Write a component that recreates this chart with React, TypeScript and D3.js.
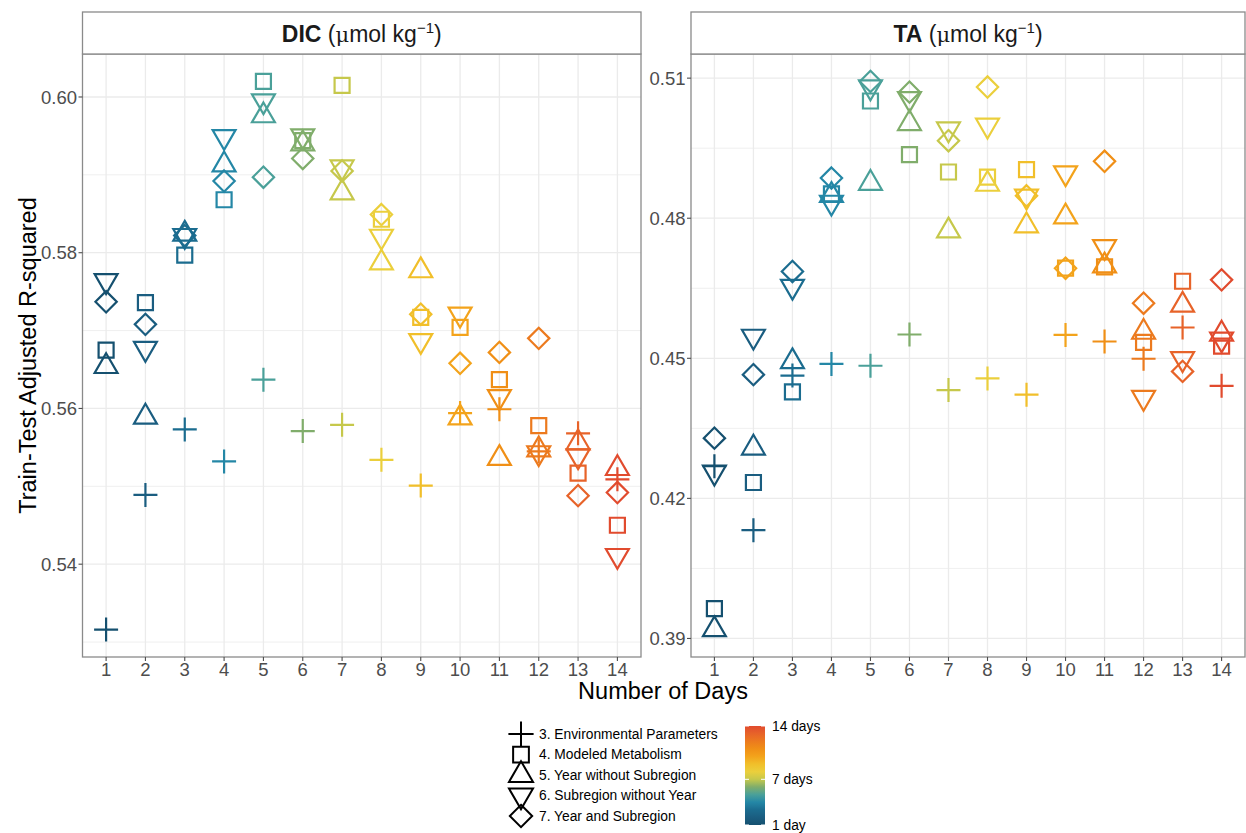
import React from "react";
import * as d3 from "d3";

// categories
const days = [1, 2, 3, 4, 5, 6, 7, 8, 9, 10, 11, 12, 13, 14];
const modelLabels = [
  "3. Environmental Parameters",
  "4. Modeled Metabolism",
  "5. Year without Subregion",
  "6. Subregion without Year",
  "7. Year and Subregion",
];
const modelShapes = ["plus", "square", "triUp", "triDown", "diamond"];

// DIC panel, one array per model (day 1..14)
const dicEnv = [0.5316, 0.5489, 0.5573, 0.5532, 0.5637, 0.5571, 0.5579, 0.5534, 0.5501, 0.5594, 0.5599, 0.5545, 0.5568, 0.5509];
const dicMet = [0.5675, 0.5736, 0.5797, 0.5868, 0.602, 0.5944, 0.6015, 0.5843, 0.5717, 0.5704, 0.5637, 0.5578, 0.5517, 0.545];
const dicYear = [0.5654, 0.5589, 0.5824, 0.5913, 0.5976, 0.594, 0.5877, 0.5787, 0.5777, 0.5588, 0.5536, 0.5547, 0.5556, 0.5523];
const dicSub = [0.5764, 0.5677, 0.5822, 0.5949, 0.5995, 0.595, 0.591, 0.5821, 0.5687, 0.5721, 0.5615, 0.5543, 0.5539, 0.5411];
const dicBoth = [0.5737, 0.5708, 0.5822, 0.5892, 0.5897, 0.5921, 0.5905, 0.5849, 0.5721, 0.5658, 0.5672, 0.569, 0.5488, 0.5492];

// TA panel
const taEnv = [0.4269, 0.4132, 0.4463, 0.4488, 0.4484, 0.4551, 0.4432, 0.4457, 0.4422, 0.455, 0.4536, 0.4499, 0.4566, 0.4441];
const taMet = [0.3964, 0.4234, 0.4428, 0.4852, 0.5051, 0.4936, 0.4899, 0.4888, 0.4904, 0.4693, 0.4696, 0.4534, 0.4665, 0.4526];
const taYear = [0.3919, 0.4308, 0.4493, 0.4849, 0.4875, 0.5003, 0.4773, 0.4873, 0.4784, 0.4803, 0.4698, 0.4556, 0.4614, 0.4552];
const taSub = [0.4256, 0.4547, 0.4654, 0.4834, 0.5081, 0.5056, 0.4991, 0.4999, 0.4847, 0.4897, 0.4739, 0.4416, 0.4499, 0.4541];
const taBoth = [0.4329, 0.4465, 0.4686, 0.4886, 0.5093, 0.507, 0.4966, 0.5081, 0.4848, 0.4693, 0.4922, 0.4618, 0.4472, 0.4668];

const dicTicks = [0.54, 0.56, 0.58, 0.6];
const taTicks = [0.39, 0.42, 0.45, 0.48, 0.51];
const colorbarDays = [1, 7, 14];
const colorbarLabels = ["1 day", "7 days", "14 days"];

// palette (1 day -> 14 days)
const dayColors = [
  "#15506f", "#1a5d80", "#1b6c8f", "#2487a6", "#4aa099", "#80ad6b", "#c6c84b",
  "#ebcf3c", "#f1bf2a", "#f3a31b", "#f08f16", "#ec7a1e", "#e76329", "#e14b2e",
];

const FONT = "'Liberation Sans', Arial, Helvetica, sans-serif";
const W = 1246;
const H = 833;
const stripTop = 12;
const panelTop = 54;
const panelBottom = 657;
const borderCol = "#8a8a8a";
const gridCol = "#ebebeb";
const textCol = "#4d4d4d";

const color = d3.scaleLinear<string>().domain(days).range(dayColors).interpolate(d3.interpolateRgb);

// ggplot-like open shapes, centred on the point
function markerPath(shape: string, k = 1) {
  const p = d3.path();
  if (shape === "plus") {
    const a = 12 * k;
    p.moveTo(-a, 0); p.lineTo(a, 0); p.moveTo(0, -a); p.lineTo(0, a);
  } else if (shape === "square") {
    const a = 7.5 * k;
    p.rect(-a, -a, 2 * a, 2 * a);
  } else if (shape === "triUp") {
    p.moveTo(0, -13.2 * k); p.lineTo(11.45 * k, 6.6 * k); p.lineTo(-11.45 * k, 6.6 * k); p.closePath();
  } else if (shape === "triDown") {
    p.moveTo(0, 13.2 * k); p.lineTo(11.45 * k, -6.6 * k); p.lineTo(-11.45 * k, -6.6 * k); p.closePath();
  } else {
    const a = 10.65 * k;
    p.moveTo(0, -a); p.lineTo(a, 0); p.lineTo(0, a); p.lineTo(-a, 0); p.closePath();
  }
  return p.toString();
}

type PanelProps = { title: string; left: number; right: number; ticks: number[]; series: number[][] };

function Panel({ title, left, right, ticks, series }: PanelProps) {
  const x = d3.scalePoint<number>().domain(days).range([left, right]).padding(0.6);
  const all = series.flat();
  const [lo, hi] = d3.extent(all) as [number, number];
  const pad = (hi - lo) * 0.05;
  const y = d3.scaleLinear().domain([lo - pad, hi + pad]).range([panelBottom, panelTop]);
  const step = ticks[1] - ticks[0];
  const minor = [ticks[0] - step / 2, ...ticks.map((t) => t + step / 2)].filter(
    (v) => v >= y.domain()[0] && v <= y.domain()[1]
  );
  const fmt = d3.format(".2f");
  const cx = (left + right) / 2;
  return (
    <g>
      {minor.map((v) => (
        <line key={"m" + v} x1={left} x2={right} y1={y(v)} y2={y(v)} stroke={gridCol} strokeWidth={0.8} />
      ))}
      {ticks.map((v) => (
        <line key={"g" + v} x1={left} x2={right} y1={y(v)} y2={y(v)} stroke={gridCol} strokeWidth={1.3} />
      ))}
      {days.map((d) => (
        <line key={"v" + d} x1={x(d)} x2={x(d)} y1={panelTop} y2={panelBottom} stroke={gridCol} strokeWidth={1.3} />
      ))}
      {series.map((vals, si) =>
        vals.map((v, i) => (
          <path
            key={si + "-" + i}
            d={markerPath(modelShapes[si])}
            transform={`translate(${x(days[i])},${y(v)})`}
            fill="none"
            stroke={color(days[i])}
            strokeWidth={2.2}
          />
        ))
      )}
      <rect x={left} y={panelTop} width={right - left} height={panelBottom - panelTop} fill="none" stroke={borderCol} strokeWidth={1.3} />
      <rect x={left} y={stripTop} width={right - left} height={panelTop - stripTop} fill="#fff" stroke={borderCol} strokeWidth={1.3} />
      <text x={cx} y={42} textAnchor="middle" fontFamily={FONT} fontSize={23} fill="#1a1a1a">
        <tspan fontWeight="bold">{title}</tspan>
        <tspan> (</tspan>
        <tspan fontFamily="'DejaVu Serif', serif" fontSize={21}>μ</tspan>
        <tspan>mol kg</tspan>
        <tspan fontSize={15} dy={-9}>−1</tspan>
        <tspan dy={9}>)</tspan>
      </text>
      {ticks.map((v) => (
        <g key={"t" + v}>
          <line x1={left - 4} x2={left} y1={y(v)} y2={y(v)} stroke={textCol} strokeWidth={1.1} />
          <text x={left - 5.5} y={y(v)} dy="0.36em" textAnchor="end" fontFamily={FONT} fontSize={18.5} fill={textCol}>
            {fmt(v)}
          </text>
        </g>
      ))}
      {days.map((d) => (
        <g key={"xt" + d}>
          <line x1={x(d)} x2={x(d)} y1={panelBottom} y2={panelBottom + 4} stroke={textCol} strokeWidth={1.1} />
          <text x={x(d)} y={panelBottom + 18.5} textAnchor="middle" fontFamily={FONT} fontSize={18.5} fill={textCol}>
            {d}
          </text>
        </g>
      ))}
    </g>
  );
}

export default function App() {
  const cbTop = 726;
  const cbBottom = 825;
  const cbY = d3.scaleLinear().domain([1, 14]).range([cbBottom, cbTop]);
  const gradStops = d3.range(0, 1.0001, 1 / 26);
  const legendX = 521;
  const legendY = d3.scalePoint<string>().domain(modelLabels).range([734, 816]);
  return (
    <svg width={W} height={H} style={{ position: "absolute", left: 0, top: 0, background: "#fff" }}>
      <defs>
        <linearGradient id="cb" x1="0" y1="1" x2="0" y2="0">
          {gradStops.map((t) => (
            <stop key={t} offset={t} stopColor={color(1 + t * 13)} />
          ))}
        </linearGradient>
      </defs>
      <rect width={W} height={H} fill="#fff" />
      <Panel title="DIC" left={82.5} right={641} ticks={dicTicks} series={[dicEnv, dicMet, dicYear, dicSub, dicBoth]} />
      <Panel title="TA" left={691} right={1245} ticks={taTicks} series={[taEnv, taMet, taYear, taSub, taBoth]} />
      <text
        transform={`translate(36,${(panelTop + panelBottom) / 2}) rotate(-90)`}
        textAnchor="middle"
        fontFamily={FONT}
        fontSize={23.5}
        fill="#000"
      >
        Train-Test Adjusted R-squared
      </text>
      <text x={663} y={699} textAnchor="middle" fontFamily={FONT} fontSize={23.5} fill="#000">
        Number of Days
      </text>
      {modelLabels.map((lab, i) => (
        <g key={lab}>
          <path
            d={markerPath(modelShapes[i], 1.05)}
            transform={`translate(${legendX},${legendY(lab)})`}
            fill="none"
            stroke="#000"
            strokeWidth={2}
          />
          <text x={539} y={legendY(lab)} dy="0.36em" fontFamily={FONT} fontSize={13.8} fill="#000">
            {lab}
          </text>
        </g>
      ))}
      <rect x={745} y={cbTop} width={20} height={cbBottom - cbTop} fill="url(#cb)" />
      {colorbarDays.map((d, i) => (
        <g key={d}>
          <line x1={745} x2={749} y1={cbY(d)} y2={cbY(d)} stroke="#fff" strokeWidth={1} />
          <line x1={761} x2={765} y1={cbY(d)} y2={cbY(d)} stroke="#fff" strokeWidth={1} />
          <text x={772} y={cbY(d)} dy="0.36em" fontFamily={FONT} fontSize={13.8} fill="#000">
            {colorbarLabels[i]}
          </text>
        </g>
      ))}
    </svg>
  );
}
